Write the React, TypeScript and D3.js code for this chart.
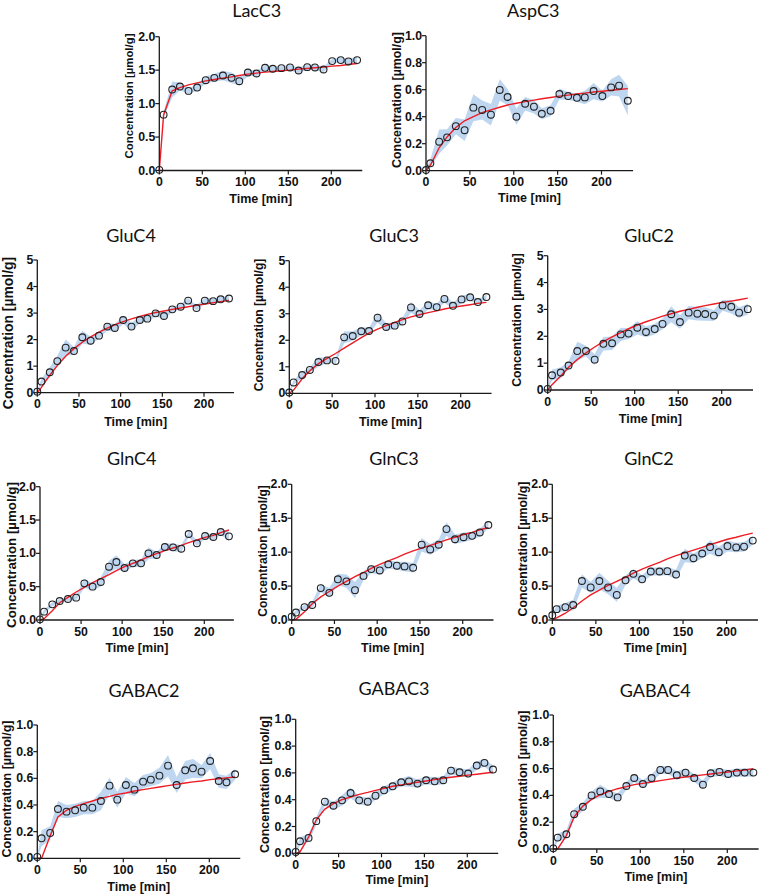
import React from 'react';
import * as d3 from 'd3';

const timePoints = [0, 5, 15, 24, 34, 44, 54, 64, 74, 84, 93, 103, 113, 123, 132, 142, 152, 162, 172, 181, 191, 201, 211, 220, 230];
const xTicks = [0, 50, 100, 150, 200];

const lacC3Mean = [0.01, 0.835, 1.21, 1.255, 1.19, 1.24, 1.35, 1.385, 1.42, 1.385, 1.335, 1.465, 1.45, 1.535, 1.52, 1.53, 1.54, 1.495, 1.545, 1.54, 1.51, 1.635, 1.65, 1.63, 1.65];
const lacC3Sd = [0.02, 0.04, 0.12, 0.06, 0.04, 0.05, 0.05, 0.06, 0.07, 0.08, 0.06, 0.05, 0.04, 0.04, 0.04, 0.03, 0.04, 0.04, 0.04, 0.04, 0.04, 0.03, 0.04, 0.04, 0.05];
const lacC3Fit = [0, 0.83, 1.19, 1.24, 1.28, 1.31, 1.34, 1.36, 1.38, 1.4, 1.42, 1.44, 1.455, 1.47, 1.48, 1.49, 1.5, 1.515, 1.525, 1.535, 1.545, 1.56, 1.57, 1.585, 1.6];

const aspC3Mean = [0.005, 0.055, 0.215, 0.247, 0.33, 0.3, 0.467, 0.45, 0.415, 0.598, 0.546, 0.4, 0.496, 0.474, 0.422, 0.444, 0.568, 0.553, 0.54, 0.543, 0.59, 0.553, 0.617, 0.63, 0.518];
const aspC3Sd = [0.01, 0.03, 0.09, 0.06, 0.06, 0.08, 0.1, 0.07, 0.08, 0.08, 0.06, 0.06, 0.05, 0.05, 0.04, 0.04, 0.04, 0.03, 0.03, 0.05, 0.06, 0.04, 0.06, 0.08, 0.11];
const aspC3Fit = [0, 0.04, 0.17, 0.25, 0.32, 0.37, 0.4, 0.43, 0.45, 0.47, 0.487, 0.5, 0.512, 0.523, 0.533, 0.542, 0.552, 0.56, 0.568, 0.575, 0.583, 0.589, 0.596, 0.602, 0.608];

const gluC4Mean = [0.04, 0.42, 0.77, 1.19, 1.7, 1.57, 2.09, 1.96, 2.15, 2.49, 2.44, 2.74, 2.49, 2.74, 2.79, 2.99, 2.89, 3.14, 3.24, 3.47, 3.19, 3.47, 3.45, 3.52, 3.55];
const gluC4Sd = [0.05, 0.1, 0.2, 0.2, 0.3, 0.15, 0.25, 0.15, 0.12, 0.15, 0.15, 0.15, 0.15, 0.12, 0.12, 0.12, 0.12, 0.1, 0.1, 0.1, 0.1, 0.12, 0.1, 0.1, 0.08];
const gluC4Fit = [0, 0.2, 0.66, 1.02, 1.37, 1.66, 1.9, 2.1, 2.28, 2.43, 2.56, 2.68, 2.78, 2.87, 2.95, 3.02, 3.08, 3.14, 3.19, 3.24, 3.29, 3.34, 3.39, 3.43, 3.48];

const gluC3Mean = [0.03, 0.41, 0.69, 0.88, 1.18, 1.24, 1.22, 2.11, 2.16, 2.34, 2.35, 2.85, 2.5, 2.55, 2.71, 3.24, 2.99, 3.32, 3.25, 3.56, 3.3, 3.54, 3.62, 3.44, 3.63];
const gluC3Sd = [0.05, 0.08, 0.12, 0.1, 0.18, 0.1, 0.1, 0.22, 0.18, 0.15, 0.12, 0.18, 0.15, 0.12, 0.12, 0.2, 0.15, 0.15, 0.12, 0.15, 0.12, 0.15, 0.12, 0.1, 0.1];
const gluC3Fit = [0, 0.12, 0.55, 0.85, 1.12, 1.32, 1.5, 1.7, 1.9, 2.1, 2.27, 2.42, 2.55, 2.67, 2.78, 2.88, 2.96, 3.04, 3.11, 3.18, 3.24, 3.29, 3.34, 3.39, 3.43];

const gluC2Mean = [0.04, 0.55, 0.65, 0.91, 1.45, 1.45, 1.13, 1.72, 1.74, 2.07, 2.1, 2.32, 2.16, 2.27, 2.46, 2.82, 2.53, 2.88, 2.84, 2.83, 2.77, 3.15, 3.1, 2.88, 3.01];
const gluC2Sd = [0.05, 0.2, 0.2, 0.15, 0.35, 0.2, 0.2, 0.25, 0.25, 0.25, 0.2, 0.25, 0.2, 0.2, 0.2, 0.3, 0.25, 0.25, 0.25, 0.25, 0.2, 0.2, 0.25, 0.2, 0.2];
const gluC2Fit = [0, 0.2, 0.52, 0.85, 1.13, 1.38, 1.6, 1.8, 1.98, 2.14, 2.28, 2.42, 2.54, 2.65, 2.75, 2.84, 2.93, 3.0, 3.08, 3.14, 3.2, 3.26, 3.31, 3.36, 3.42];

const glnC4Mean = [0.01, 0.125, 0.235, 0.285, 0.315, 0.335, 0.55, 0.5, 0.57, 0.8, 0.87, 0.78, 0.85, 0.85, 1.0, 0.975, 1.095, 1.09, 1.07, 1.29, 1.15, 1.26, 1.245, 1.32, 1.255];
const glnC4Sd = [0.02, 0.03, 0.03, 0.03, 0.03, 0.04, 0.07, 0.05, 0.07, 0.09, 0.1, 0.06, 0.05, 0.06, 0.09, 0.05, 0.05, 0.06, 0.05, 0.05, 0.04, 0.04, 0.04, 0.04, 0.07];
const glnC4Fit = [0, 0.02, 0.14, 0.26, 0.34, 0.42, 0.49, 0.56, 0.62, 0.68, 0.74, 0.8, 0.85, 0.9, 0.95, 0.995, 1.04, 1.08, 1.12, 1.16, 1.2, 1.24, 1.27, 1.31, 1.35];

const glnC3Mean = [0.05, 0.11, 0.19, 0.22, 0.47, 0.4, 0.6, 0.57, 0.44, 0.65, 0.75, 0.73, 0.82, 0.8, 0.79, 0.77, 1.11, 1.04, 1.11, 1.34, 1.19, 1.22, 1.24, 1.29, 1.4];
const glnC3Sd = [0.03, 0.03, 0.03, 0.05, 0.06, 0.07, 0.08, 0.1, 0.12, 0.06, 0.06, 0.06, 0.06, 0.06, 0.07, 0.07, 0.1, 0.08, 0.08, 0.1, 0.07, 0.07, 0.06, 0.06, 0.05];
const glnC3Fit = [0, 0.01, 0.12, 0.24, 0.34, 0.42, 0.5, 0.57, 0.64, 0.7, 0.76, 0.82, 0.87, 0.92, 0.97, 1.02, 1.06, 1.1, 1.14, 1.18, 1.22, 1.26, 1.29, 1.33, 1.36];

const glnC2Mean = [0.07, 0.16, 0.19, 0.22, 0.575, 0.48, 0.575, 0.48, 0.37, 0.585, 0.68, 0.6, 0.715, 0.715, 0.72, 0.67, 0.95, 0.91, 0.98, 1.075, 1.0, 1.09, 1.07, 1.08, 1.17];
const glnC2Sd = [0.03, 0.05, 0.06, 0.08, 0.1, 0.08, 0.12, 0.1, 0.1, 0.07, 0.07, 0.06, 0.06, 0.06, 0.06, 0.07, 0.1, 0.07, 0.07, 0.1, 0.08, 0.08, 0.07, 0.07, 0.06];
const glnC2Fit = [0, 0.03, 0.1, 0.18, 0.28, 0.37, 0.44, 0.51, 0.57, 0.63, 0.69, 0.75, 0.8, 0.85, 0.9, 0.95, 0.99, 1.03, 1.07, 1.11, 1.15, 1.19, 1.22, 1.25, 1.28];

const gabaC2Mean = [0.01, 0.15, 0.19, 0.37, 0.35, 0.36, 0.38, 0.38, 0.43, 0.545, 0.44, 0.55, 0.515, 0.575, 0.59, 0.62, 0.695, 0.55, 0.66, 0.675, 0.65, 0.73, 0.58, 0.57, 0.63];
const gabaC2Sd = [0.01, 0.06, 0.05, 0.06, 0.05, 0.05, 0.05, 0.05, 0.07, 0.06, 0.06, 0.06, 0.05, 0.05, 0.05, 0.06, 0.08, 0.06, 0.07, 0.07, 0.05, 0.06, 0.05, 0.05, 0.04];
const gabaC2Fit = [0, 0, 0.17, 0.31, 0.36, 0.39, 0.41, 0.43, 0.45, 0.465, 0.48, 0.49, 0.505, 0.515, 0.525, 0.535, 0.545, 0.555, 0.565, 0.573, 0.58, 0.59, 0.597, 0.603, 0.61];

const gabaC3Mean = [0.01, 0.09, 0.115, 0.24, 0.385, 0.355, 0.395, 0.45, 0.395, 0.385, 0.43, 0.47, 0.5, 0.53, 0.537, 0.52, 0.545, 0.537, 0.545, 0.617, 0.605, 0.595, 0.655, 0.675, 0.625];
const gabaC3Sd = [0.01, 0.03, 0.03, 0.03, 0.03, 0.03, 0.04, 0.04, 0.03, 0.03, 0.03, 0.03, 0.03, 0.03, 0.04, 0.03, 0.03, 0.03, 0.03, 0.03, 0.03, 0.03, 0.03, 0.03, 0.03];
const gabaC3Fit = [0, 0.01, 0.12, 0.25, 0.33, 0.37, 0.4, 0.42, 0.44, 0.455, 0.47, 0.485, 0.5, 0.51, 0.52, 0.53, 0.54, 0.55, 0.56, 0.568, 0.575, 0.583, 0.59, 0.597, 0.605];

const gabaC4Mean = [0.005, 0.085, 0.11, 0.26, 0.315, 0.4, 0.43, 0.41, 0.385, 0.47, 0.53, 0.485, 0.53, 0.59, 0.59, 0.55, 0.57, 0.53, 0.48, 0.565, 0.575, 0.56, 0.57, 0.57, 0.57];
const gabaC4Sd = [0.01, 0.03, 0.03, 0.04, 0.03, 0.03, 0.05, 0.03, 0.03, 0.03, 0.03, 0.03, 0.03, 0.03, 0.03, 0.03, 0.03, 0.03, 0.03, 0.03, 0.03, 0.03, 0.03, 0.03, 0.03];
const gabaC4Fit = [0, 0, 0.1, 0.24, 0.32, 0.37, 0.405, 0.43, 0.45, 0.465, 0.48, 0.49, 0.5, 0.51, 0.52, 0.53, 0.537, 0.545, 0.553, 0.56, 0.568, 0.575, 0.583, 0.59, 0.6];

type Panel = {
  title: string; mean: number[]; sd: number[]; fit: number[];
  yMax: number; yStep: number; decimals: number;
  left: number; w200: number; top: number; bottom: number;
  titleX: number; titleY: number; yLabelX: number; yLabelY: number; yLabelSize: number; xLabelY: number;
};

const panels: Panel[] = [
  { title: 'LacC3', mean: lacC3Mean, sd: lacC3Sd, fit: lacC3Fit, yMax: 2, yStep: 0.5, decimals: 1, left: 159.3, w200: 172, top: 36.7, bottom: 170.5, titleX: 256.7, titleY: 10, yLabelX: 129.3, yLabelY: 96, yLabelSize: 11.4, xLabelY: 198.5 },
  { title: 'AspC3', mean: aspC3Mean, sd: aspC3Sd, fit: aspC3Fit, yMax: 1, yStep: 0.2, decimals: 1, left: 426, w200: 175.5, top: 35.7, bottom: 170.7, titleX: 533.3, titleY: 10, yLabelX: 396.7, yLabelY: 100, yLabelSize: 12.4, xLabelY: 198 },
  { title: 'GluC4', mean: gluC4Mean, sd: gluC4Sd, fit: gluC4Fit, yMax: 5, yStep: 1, decimals: 0, left: 37.3, w200: 166.7, top: 260, bottom: 392.7, titleX: 131, titleY: 235, yLabelX: 7.6, yLabelY: 333, yLabelSize: 13.9, xLabelY: 422 },
  { title: 'GluC3', mean: gluC3Mean, sd: gluC3Sd, fit: gluC3Fit, yMax: 5, yStep: 1, decimals: 0, left: 289.3, w200: 171.4, top: 260.7, bottom: 393.3, titleX: 394, titleY: 235, yLabelX: 259.3, yLabelY: 325, yLabelSize: 12.1, xLabelY: 422 },
  { title: 'GluC2', mean: gluC2Mean, sd: gluC2Sd, fit: gluC2Fit, yMax: 5, yStep: 1, decimals: 0, left: 547.7, w200: 174, top: 255.7, bottom: 390, titleX: 649, titleY: 235, yLabelX: 517.3, yLabelY: 320, yLabelSize: 12.2, xLabelY: 419 },
  { title: 'GlnC4', mean: glnC4Mean, sd: glnC4Sd, fit: glnC4Fit, yMax: 2, yStep: 0.5, decimals: 1, left: 40, w200: 164.3, top: 486.7, bottom: 620, titleX: 131.7, titleY: 458, yLabelX: 11.7, yLabelY: 555, yLabelSize: 13.3, xLabelY: 648 },
  { title: 'GlnC3', mean: glnC3Mean, sd: glnC3Sd, fit: glnC3Fit, yMax: 2, yStep: 0.5, decimals: 1, left: 291.7, w200: 171, top: 484.3, bottom: 620, titleX: 394, titleY: 458, yLabelX: 262.7, yLabelY: 551, yLabelSize: 12, xLabelY: 648 },
  { title: 'GlnC2', mean: glnC2Mean, sd: glnC2Sd, fit: glnC2Fit, yMax: 2, yStep: 0.5, decimals: 1, left: 552.3, w200: 174.3, top: 484.3, bottom: 620, titleX: 649, titleY: 458, yLabelX: 523.3, yLabelY: 549, yLabelSize: 12.3, xLabelY: 648 },
  { title: 'GABAC2', mean: gabaC2Mean, sd: gabaC2Sd, fit: gabaC2Fit, yMax: 1, yStep: 0.2, decimals: 1, left: 37.3, w200: 172, top: 725, bottom: 858.3, titleX: 144, titleY: 690, yLabelX: 7.3, yLabelY: 789, yLabelSize: 12.5, xLabelY: 886.7 },
  { title: 'GABAC3', mean: gabaC3Mean, sd: gabaC3Sd, fit: gabaC3Fit, yMax: 1, yStep: 0.2, decimals: 1, left: 295.7, w200: 171.6, top: 719.3, bottom: 853.3, titleX: 394, titleY: 688, yLabelX: 265, yLabelY: 784.5, yLabelSize: 12.5, xLabelY: 880 },
  { title: 'GABAC4', mean: gabaC4Mean, sd: gabaC4Sd, fit: gabaC4Fit, yMax: 1, yStep: 0.2, decimals: 1, left: 553.3, w200: 174, top: 715, bottom: 849, titleX: 655.3, titleY: 690, yLabelX: 523.3, yLabelY: 779, yLabelSize: 12.5, xLabelY: 877 },
];

const AXIS = '#1a1a1a';
const BOLD = '"Liberation Sans", Arial, sans-serif';

function PanelView({ p }: { p: Panel }) {
  const x = d3.scaleLinear().domain([0, 200]).range([p.left, p.left + p.w200]);
  const xEnd = x(236);
  const y = d3.scaleLinear().domain([0, p.yMax]).range([p.bottom, p.top]);
  const band = d3.area<number>()
    .x((_, i) => x(timePoints[i]))
    .y0((_, i) => y(Math.max(0, p.mean[i] - p.sd[i])))
    .y1((_, i) => y(p.mean[i] + p.sd[i]));
  const line = d3.line<number>().x((_, i) => x(timePoints[i])).y((d) => y(d));
  const yTicks = d3.range(0, p.yMax + 1e-9, p.yStep);
  const fmt = d3.format(p.decimals ? '.1f' : 'd');
  return (
    <g>
      <text x={p.titleX} y={p.titleY} textAnchor="middle" dominantBaseline="central"
        fontFamily="Lato, 'Open Sans', sans-serif" fontSize={18} fill="#111">{p.title}</text>
      <path d={band(p.mean) || ''} fill="#bed6f0" stroke="none" />
      <path d={line(p.fit) || ''} fill="none" stroke="#ee1c25" strokeWidth={1.4} />
      {p.mean.map((v, i) => (
        <circle key={i} cx={x(timePoints[i])} cy={y(v)} r={3.4} fill="none" stroke="#222" strokeWidth={1.1} />
      ))}
      <line x1={p.left} x2={p.left} y1={p.bottom} y2={p.top} stroke={AXIS} strokeWidth={1.3} />
      <line x1={p.left} x2={xEnd} y1={p.bottom} y2={p.bottom} stroke={AXIS} strokeWidth={1.3} />
      {yTicks.map((t) => (
        <g key={'y' + t}>
          <line x1={p.left - 4} x2={p.left} y1={y(t)} y2={y(t)} stroke={AXIS} strokeWidth={1.2} />
          <text x={p.left - 4} y={y(t)} textAnchor="end" dominantBaseline="central"
            fontFamily={BOLD} fontWeight="bold" fontSize={12.3} fill="#111">{fmt(t)}</text>
        </g>
      ))}
      {xTicks.map((t) => (
        <g key={'x' + t}>
          <line x1={x(t)} x2={x(t)} y1={p.bottom} y2={p.bottom + 4} stroke={AXIS} strokeWidth={1.2} />
          <text x={x(t)} y={p.bottom + 11.5} textAnchor="middle" dominantBaseline="central"
            fontFamily={BOLD} fontWeight="bold" fontSize={12.3} fill="#111">{t}</text>
        </g>
      ))}
      <text x={(p.left + xEnd) / 2} y={p.xLabelY} textAnchor="middle" dominantBaseline="central"
        fontFamily={BOLD} fontWeight="bold" fontSize={12.5} fill="#111">Time [min]</text>
      <text transform={`translate(${p.yLabelX},${p.yLabelY}) rotate(-90)`} textAnchor="middle" dominantBaseline="central"
        fontFamily={BOLD} fontWeight="bold" fontSize={p.yLabelSize} fill="#111">Concentration [µmol/g]</text>
    </g>
  );
}

export default function App() {
  return (
    <svg width={760} height={895} style={{ position: 'absolute', left: 0, top: 0, background: '#fff' }}>
      <rect width={760} height={895} fill="#fff" />
      {panels.map((p) => <PanelView key={p.title} p={p} />)}
    </svg>
  );
}
